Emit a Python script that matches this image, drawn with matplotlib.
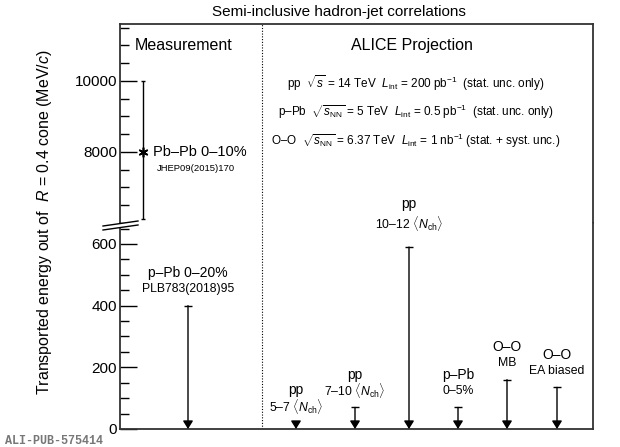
import matplotlib.pyplot as plt
from matplotlib.ticker import MultipleLocator, FixedLocator
from matplotlib.patches import Polygon

plt.rcParams['font.family'] = ['Liberation Sans', 'DejaVu Sans']
plt.rcParams['mathtext.fontset'] = 'custom'
plt.rcParams['mathtext.rm'] = 'Liberation Sans'
plt.rcParams['mathtext.it'] = 'Liberation Sans:italic'
plt.rcParams['mathtext.bf'] = 'Liberation Sans:bold'

# measured Pb-Pb point (upper panel)
pbpb_x = 0.46
pbpb_val = 8000
pbpb_lo = 6100
pbpb_hi = 10000

# upper limits (lower panel)
lim_x = [1.36, 3.52, 4.70, 5.78, 6.76, 7.74, 8.74]
lim_val = [400, 20, 70, 590, 70, 160, 135]
lim_top = ['p–Pb 0–20%', 'pp', 'pp', 'pp', 'p–Pb', 'O–O', 'O–O']
lim_sub = ['PLB783(2018)95',
           r'5–7 $\langle N_{\rm ch}\rangle$',
           r'7–10 $\langle N_{\rm ch}\rangle$',
           r'10–12 $\langle N_{\rm ch}\rangle$',
           '0–5%', 'MB', 'EA biased']
# extra label lift in points (10-12 sits higher)
lim_lift = [0, 0, 0, 5, 0, 0, 0]

divider_x = 2.84

proj_lines = [
    r'pp  $\sqrt{s}$ = 14 TeV  $L_{\rm int}$ = 200 pb$^{-1}$  (stat. unc. only)',
    r'p–Pb  $\sqrt{s_{\rm NN}}$ = 5 TeV  $L_{\rm int}$ = 0.5 pb$^{-1}$  (stat. unc. only)',
    r'O–O  $\sqrt{s_{\rm NN}}$ = 6.37 TeV  $L_{\rm int}$ = 1 nb$^{-1}$ (stat. + syst. unc.)',
]

W, H = 620, 447
fig = plt.figure(figsize=(6.2, 4.47), dpi=100)

left = 120 / W
width = 473 / W
y_break = 223
ax_top = fig.add_axes([left, 1 - y_break / H, width, (y_break - 24) / H])
ax_bot = fig.add_axes([left, 1 - 429 / H, width, (429 - y_break) / H])

frame_col = '#333333'
for ax in (ax_top, ax_bot):
    ax.set_xlim(0, 9.46)
    ax.set_xticks([])
    for s in ax.spines.values():
        s.set_color(frame_col)
        s.set_linewidth(1.3)
    ax.tick_params(axis='y', direction='in', which='major', length=12,
                   width=1, labelsize=11, pad=2, colors='k')
    ax.tick_params(axis='y', direction='in', which='minor', length=6.5, width=1)
    ax.axvline(divider_x, ls=(0, (1, 1.5)), lw=0.8, color='k')

ax_top.spines['bottom'].set_visible(False)
ax_bot.spines['top'].set_visible(False)

ax_top.set_ylim(6000, 11600)
ax_top.yaxis.set_major_locator(FixedLocator([8000, 10000]))
ax_top.yaxis.set_minor_locator(MultipleLocator(500))

ax_bot.set_ylim(0, 668)
ax_bot.yaxis.set_major_locator(FixedLocator([0, 200, 400, 600]))
ax_bot.yaxis.set_minor_locator(MultipleLocator(50))

# Pb-Pb measurement
ax_top.errorbar([pbpb_x], [pbpb_val],
                yerr=[[pbpb_val - pbpb_lo], [pbpb_hi - pbpb_val]],
                fmt='none', ecolor='k', elinewidth=1, capsize=1.5)
ax_top.plot([pbpb_x], [pbpb_val], marker=(6, 2, 0), ms=7, color='k', mew=1.2)
ax_top.annotate('Pb–Pb 0–10%', (pbpb_x, pbpb_val), xytext=(7, 0),
                textcoords='offset points', va='center', ha='left', fontsize=10.5)
ax_top.annotate('JHEP09(2015)170', (pbpb_x, pbpb_val), xytext=(10, -12),
                textcoords='offset points', va='center', ha='left', fontsize=6.8)

ax_top.text(0.032, 0.89, 'Measurement', transform=ax_top.transAxes,
            fontsize=11.5, va='center', ha='left')
ax_top.text(0.618, 0.89, 'ALICE Projection', transform=ax_top.transAxes,
            fontsize=11.5, va='center', ha='center')
for i, txt in enumerate(proj_lines):
    ax_top.text(0.625, 0.705 - i * 0.147, txt, transform=ax_top.transAxes,
                fontsize=8.5, va='center', ha='center')

# upper limits
for x, v, t, s, lift in zip(lim_x, lim_val, lim_top, lim_sub, lim_lift):
    ax_bot.annotate('', xy=(x, 0), xytext=(x, v),
                    arrowprops=dict(arrowstyle='-|>,head_length=0.4,head_width=0.25',
                                    color='k', lw=1, shrinkA=0, shrinkB=0,
                                    mutation_scale=12), annotation_clip=False)
    if v > 30:
        ax_bot.hlines(v, x - 0.08, x + 0.08, color='k', lw=1)
    ax_bot.annotate(s, (x, v), xytext=(0, 12 + lift), textcoords='offset points',
                    ha='center', va='center', fontsize=8.8, annotation_clip=False)
    ax_bot.annotate(t, (x, v), xytext=(0, 23.5 + 1.5 * lift), textcoords='offset points',
                    ha='center', va='center', fontsize=10, annotation_clip=False)

# axis break marks
def fpt(px, py):
    return (px / W, 1 - py / H)

gap = Polygon([fpt(103, 226), fpt(138, 221), fpt(138, 225), fpt(103, 230)],
              closed=True, transform=fig.transFigure, facecolor='white',
              edgecolor='none', zorder=5)
fig.add_artist(gap)
for dy in (0, 4):
    x0, y0 = fpt(103, 226 + dy)
    x1, y1 = fpt(138, 221 + dy)
    fig.add_artist(plt.Line2D([x0, x1], [y0, y1], transform=fig.transFigure,
                              color='k', lw=1, zorder=6))

fig.text(339 / W, 1 - 12 / H, 'Semi-inclusive hadron-jet correlations',
         ha='center', va='center', fontsize=11)
fig.text(45 / W, 1 - 222 / H, r'Transported energy out of  $R$ = 0.4 cone (MeV/$c$)',
         rotation=90, ha='center', va='center', fontsize=11.5)
fig.text(5 / W, 1 - 441 / H, 'ALI-PUB-575414', family='Liberation Mono',
         weight='bold', color='#777777', fontsize=8.5, ha='left', va='center')

fig.savefig('out.png', dpi=100)
